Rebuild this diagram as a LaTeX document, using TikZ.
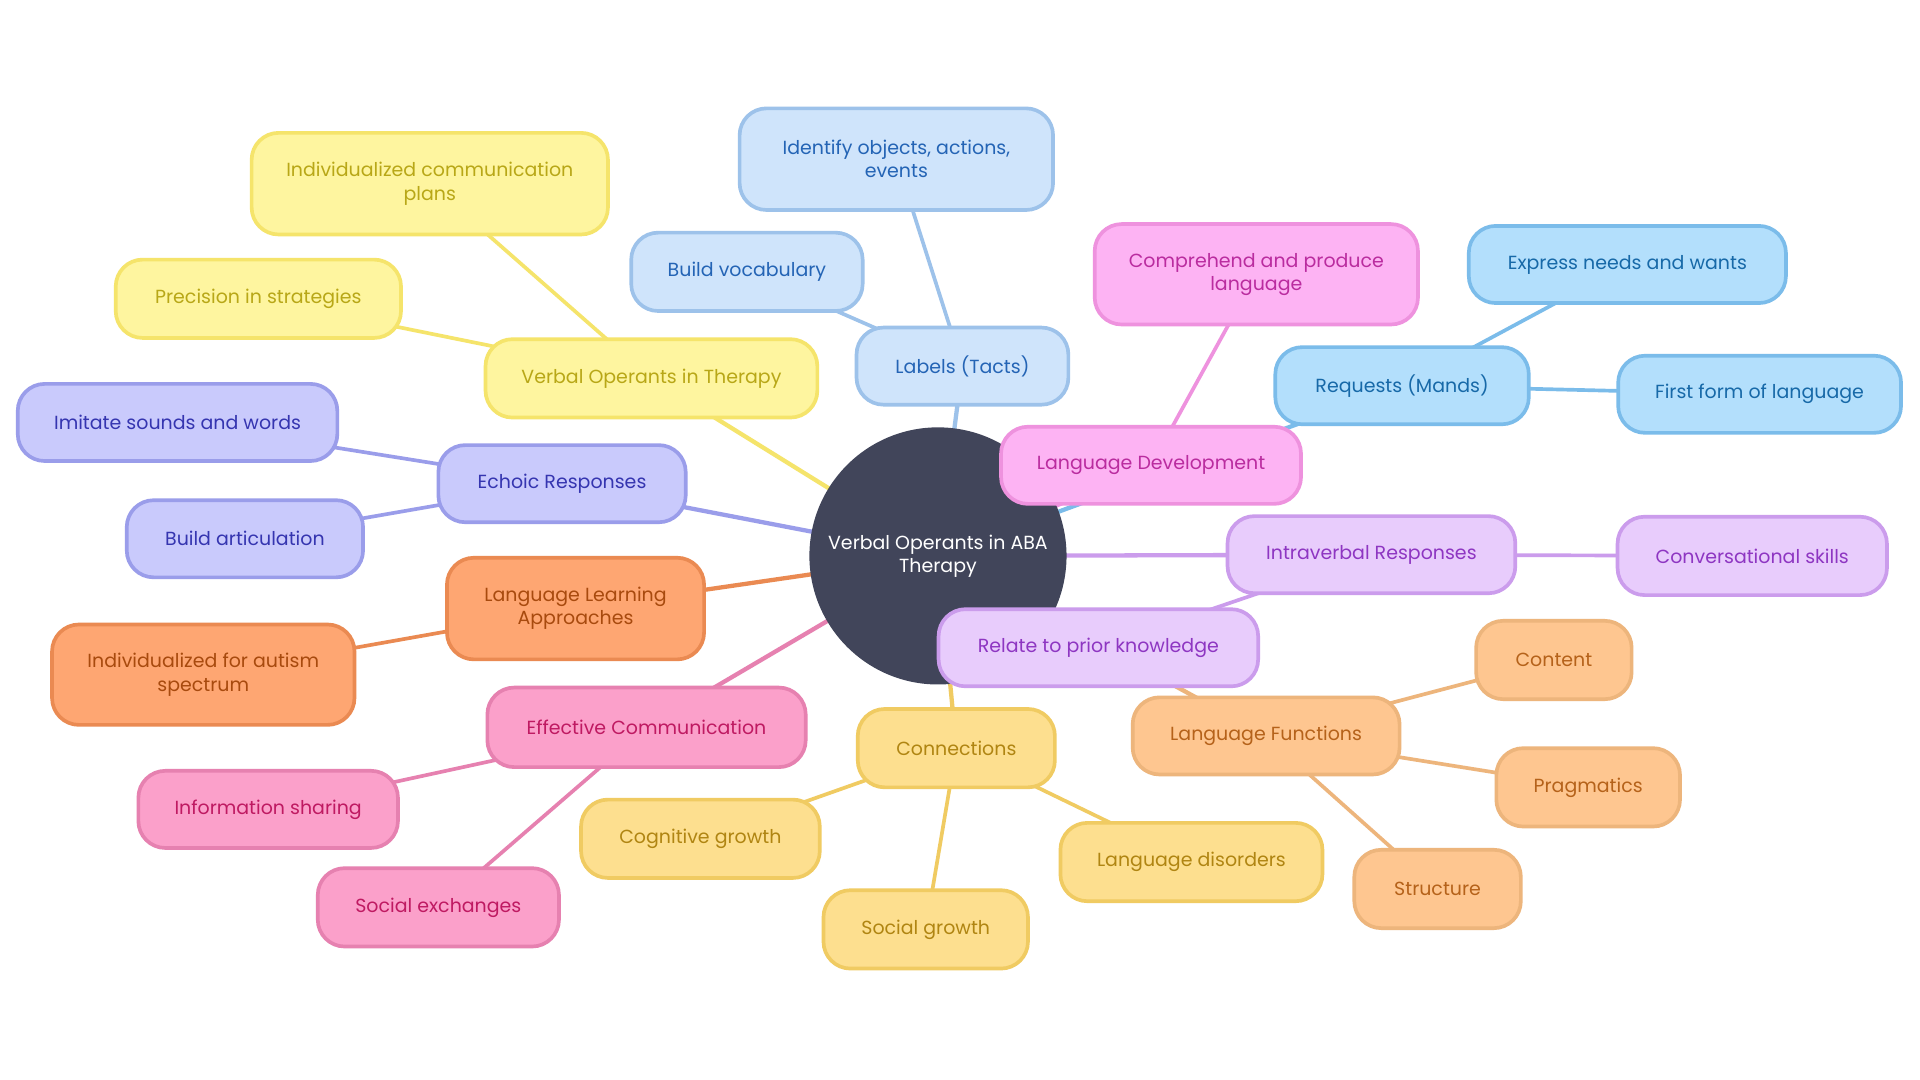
\documentclass[tikz,border=0pt]{standalone}
\usepackage{fontspec}
\setmainfont{Poppins}
\usetikzlibrary{backgrounds}
\definecolor{cdark}{HTML}{41455A}
\definecolor{yelF}{HTML}{FEF59F}\definecolor{yelD}{HTML}{F5E46B}\definecolor{yelT}{HTML}{B8A717}
\definecolor{tacF}{HTML}{CFE4FB}\definecolor{tacD}{HTML}{9DC2EA}\definecolor{tacT}{HTML}{2464B5}
\definecolor{manF}{HTML}{B3DFFC}\definecolor{manD}{HTML}{7BBCEA}\definecolor{manT}{HTML}{1769A8}
\definecolor{magF}{HTML}{FDB3F3}\definecolor{magD}{HTML}{EE92DE}\definecolor{magT}{HTML}{BA2C9F}
\definecolor{echF}{HTML}{C9CAFC}\definecolor{echD}{HTML}{9A9DEA}\definecolor{echT}{HTML}{3535B0}
\definecolor{oraF}{HTML}{FEA672}\definecolor{oraD}{HTML}{EA8A52}\definecolor{oraT}{HTML}{A84A0E}
\definecolor{rosF}{HTML}{FBA0CA}\definecolor{rosD}{HTML}{E681B0}\definecolor{rosT}{HTML}{BF1A62}
\definecolor{golF}{HTML}{FDDF8F}\definecolor{golD}{HTML}{F0CB62}\definecolor{golT}{HTML}{B08512}
\definecolor{lilF}{HTML}{E8CCFC}\definecolor{lilD}{HTML}{CB9CEC}\definecolor{lilT}{HTML}{8E36C2}
\definecolor{peaF}{HTML}{FEC690}\definecolor{peaD}{HTML}{EDB57C}\definecolor{peaT}{HTML}{B5621A}
\begin{document}
\begin{tikzpicture}[x=1pt,y=-1pt,
  box/.style={rectangle,rounded corners=22pt,line width=3pt,inner sep=0pt,align=center,
    font=\fontsize{15.5}{19}\selectfont},
  yel/.style={box,fill=yelF,draw=yelD,text=yelT},
  tac/.style={box,fill=tacF,draw=tacD,text=tacT},
  man/.style={box,fill=manF,draw=manD,text=manT},
  mag/.style={box,fill=magF,draw=magD,text=magT},
  ech/.style={box,fill=echF,draw=echD,text=echT},
  ora/.style={box,fill=oraF,draw=oraD,text=oraT},
  ros/.style={box,fill=rosF,draw=rosD,text=rosT},
  gol/.style={box,fill=golF,draw=golD,text=golT},
  lil/.style={box,fill=lilF,draw=lilD,text=lilT},
  pea/.style={box,fill=peaF,draw=peaD,text=peaT},
  e1/.style={line width=3.5pt},
  e2/.style={line width=3pt}]
\useasboundingbox (0,0) rectangle (1568,882);
% root
\node[circle,fill=cdark,minimum size=210pt,inner sep=0pt,text=white,align=center,
  font=\fontsize{15.5}{19}\selectfont] (root) at (766,454) {Verbal Operants in ABA\\Therapy};
% level 1 and 2
\node[yel,minimum width=271pt,minimum height=64pt] (vot) at (532,309) {Verbal Operants in Therapy};
\node[yel,minimum width=291pt,minimum height=83pt] (indiv) at (351,150) {Individualized communication\\plans};
\node[yel,minimum width=233pt,minimum height=64pt] (prec) at (211,244) {Precision in strategies};

\node[tac,minimum width=173pt,minimum height=63pt] (tacts) at (786,299) {Labels (Tacts)};
\node[tac,minimum width=256pt,minimum height=83pt] (ident) at (732,130) {Identify objects, actions,\\events};
\node[tac,minimum width=189pt,minimum height=64pt] (vocab) at (610,222) {Build vocabulary};

\node[man,minimum width=207pt,minimum height=63pt] (mands) at (1145,315) {Requests (Mands)};
\node[man,minimum width=259pt,minimum height=63pt] (expr) at (1329,216) {Express needs and wants};
\node[man,minimum width=231pt,minimum height=63pt] (first) at (1437,322) {First form of language};

\node[ech,minimum width=202pt,minimum height=63pt] (echo) at (459,395) {Echoic Responses};
\node[ech,minimum width=261pt,minimum height=63pt] (imit) at (145,345) {Imitate sounds and words};
\node[ech,minimum width=193pt,minimum height=63pt] (artic) at (200,440) {Build articulation};

\node[ora,minimum width=210pt,minimum height=83pt] (learn) at (470,497) {Language Learning\\Approaches};
\node[ora,minimum width=247pt,minimum height=82pt] (autism) at (166,551) {Individualized for autism\\spectrum};

\node[ros,minimum width=260pt,minimum height=65pt] (eff) at (528,594) {Effective Communication};
\node[ros,minimum width=212pt,minimum height=63pt] (info) at (219,661) {Information sharing};
\node[ros,minimum width=197pt,minimum height=64pt] (socx) at (358,741) {Social exchanges};

\node[gol,minimum width=161pt,minimum height=64pt] (conn) at (781,611) {Connections};
\node[gol,minimum width=195pt,minimum height=64pt] (cog) at (572,685) {Cognitive growth};
\node[gol,minimum width=167pt,minimum height=64pt] (socg) at (756,759) {Social growth};
\node[gol,minimum width=214pt,minimum height=64pt] (dis) at (973,704) {Language disorders};

\node[lil,minimum width=235pt,minimum height=63pt] (intra) at (1120,453) {Intraverbal Responses};
\node[lil,minimum width=220pt,minimum height=64pt] (conv) at (1431,454) {Conversational skills};
\node[lil,minimum width=261pt,minimum height=63pt] (prior) at (897,529) {Relate to prior knowledge};

\node[pea,minimum width=218pt,minimum height=63pt] (func) at (1034,601) {Language Functions};
\node[pea,minimum width=127pt,minimum height=64pt] (cont) at (1269,539) {Content};
\node[pea,minimum width=150pt,minimum height=64pt] (prag) at (1297,643) {Pragmatics};
\node[pea,minimum width=136pt,minimum height=64pt] (struc) at (1174,726) {Structure};

\node[mag,minimum width=245pt,minimum height=63pt] (ldev) at (940,380) {Language Development};
\node[mag,minimum width=264pt,minimum height=82pt] (comp) at (1026,224) {Comprehend and produce\\language};

\begin{scope}[on background layer]
\fill[white] (0,0) rectangle (1568,882);
\draw[e1,yelD] (root.center) -- (vot.center);
\draw[e2,yelD] (vot.center) -- (indiv.center);
\draw[e2,yelD] (vot.center) -- (prec.center);
\draw[e1,tacD] (root.center) -- (tacts.center);
\draw[e2,tacD] (tacts.center) -- (ident.center);
\draw[e2,tacD] (tacts.center) -- (vocab.center);
\draw[e1,manD] (root.center) -- (mands.center);
\draw[e2,manD] (mands.center) -- (expr.center);
\draw[e2,manD] (mands.center) -- (first.center);
\draw[e1,magD] (root.center) -- (ldev.center);
\draw[e2,magD] (ldev.center) -- (comp.center);
\draw[e1,echD] (root.center) -- (echo.center);
\draw[e2,echD] (echo.center) -- (imit.center);
\draw[e2,echD] (echo.center) -- (artic.center);
\draw[e1,oraD] (root.center) -- (learn.center);
\draw[e2,oraD] (learn.center) -- (autism.center);
\draw[e1,rosD] (root.center) -- (eff.center);
\draw[e2,rosD] (eff.center) -- (info.center);
\draw[e2,rosD] (eff.center) -- (socx.center);
\draw[e1,golD] (root.center) -- (conn.center);
\draw[e2,golD] (conn.center) -- (cog.center);
\draw[e2,golD] (conn.center) -- (socg.center);
\draw[e2,golD] (conn.center) -- (dis.center);
\draw[e1,lilD] (root.center) -- (intra.center);
\draw[e2,lilD] (intra.center) -- (conv.center);
\draw[e2,lilD] (intra.center) -- (prior.center);
\draw[e1,peaD] (root.center) -- (func.center);
\draw[e2,peaD] (func.center) -- (cont.center);
\draw[e2,peaD] (func.center) -- (prag.center);
\draw[e2,peaD] (func.center) -- (struc.center);
\end{scope}
\end{tikzpicture}
\end{document}
